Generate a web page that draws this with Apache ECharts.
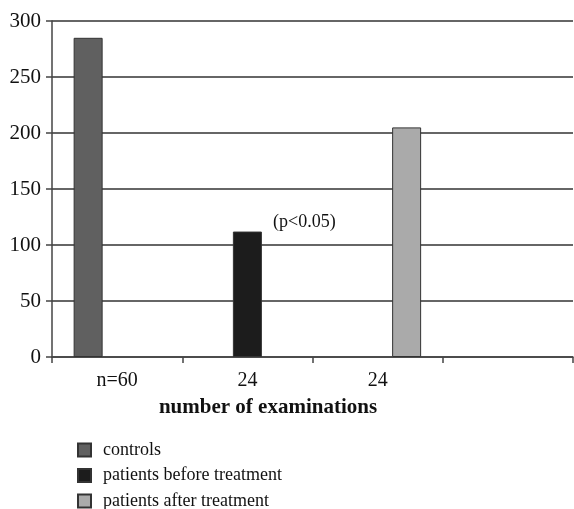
<!DOCTYPE html>
<html>
<head>
<meta charset="utf-8">
<script src="https://cdn.jsdelivr.net/npm/echarts@6/dist/echarts.min.js"></script>
<style>html,body{margin:0;padding:0;background:#fff;}#c{width:574px;height:509px;}</style>
</head>
<body>
<div id="c"></div>
<script>
var categories = ['n=60', '24', '24', ''];
var seriesNames = ['controls', 'patients before treatment', 'patients after treatment'];
var controls = [285, '-', '-', '-'];
var beforeTreatment = ['-', 112, '-', '-'];
var afterTreatment = ['-', '-', 205, '-'];
var yTicks = [0, 50, 100, 150, 200, 250, 300];
var xTitle = 'number of examinations';
var pNote = '(p<0.05)';

var font = '"Liberation Serif", "DejaVu Serif", serif';
var chart = echarts.init(document.getElementById('c'));
function barSeries(name, data, color, extra) {
  var s = {
    name: name, type: 'bar', data: data, barWidth: 29, barGap: '0%',
    itemStyle: { color: color, borderColor: '#333', borderWidth: 1 },
    animation: false
  };
  if (extra) for (var k in extra) s[k] = extra[k];
  return s;
}
chart.setOption({
  animation: false,
  grid: { left: 52, right: 1, top: 21, bottom: 152 },
  xAxis: {
    type: 'category', data: categories, boundaryGap: true,
    axisLine: { lineStyle: { color: '#444', width: 1.5 } },
    axisTick: { show: true, length: 6, lineStyle: { color: '#444', width: 1.5 } },
    axisLabel: { color: '#111', fontFamily: font, fontSize: 20, margin: 14 }
  },
  yAxis: {
    type: 'value', min: yTicks[0], max: yTicks[yTicks.length - 1], interval: 50,
    axisLine: { show: true, lineStyle: { color: '#444', width: 1.5 } },
    axisTick: { show: true, length: 6, lineStyle: { color: '#444', width: 1.5 } },
    axisLabel: { color: '#111', fontFamily: font, fontSize: 21, margin: 11 },
    splitLine: { lineStyle: { color: '#333', width: 1.5 } }
  },
  legend: {
    orient: 'vertical', left: 77, top: 441, height: 120, itemWidth: 13, itemHeight: 13, itemGap: 7.5,
    icon: 'rect', padding: 0,
    textStyle: { fontFamily: font, fontSize: 18, lineHeight: 18, color: '#111', padding: [0, 0, 0, 7] },
    data: seriesNames
  },
  graphic: [{
    type: 'text', x: 268, y: 408,
    style: { text: xTitle, font: 'bold 21px "Liberation Serif", serif', fill: '#111', textAlign: 'center', textVerticalAlign: 'middle' }
  }],
  series: [
    barSeries(seriesNames[0], controls, '#606060'),
    barSeries(seriesNames[1], beforeTreatment, '#1c1c1c', {
      label: { show: true, position: 'top', offset: [57, 5], formatter: function () { return pNote; },
        fontFamily: font, fontSize: 18, color: '#111' }
    }),
    barSeries(seriesNames[2], afterTreatment, '#aaaaaa')
  ]
});
</script>
</body>
</html>
